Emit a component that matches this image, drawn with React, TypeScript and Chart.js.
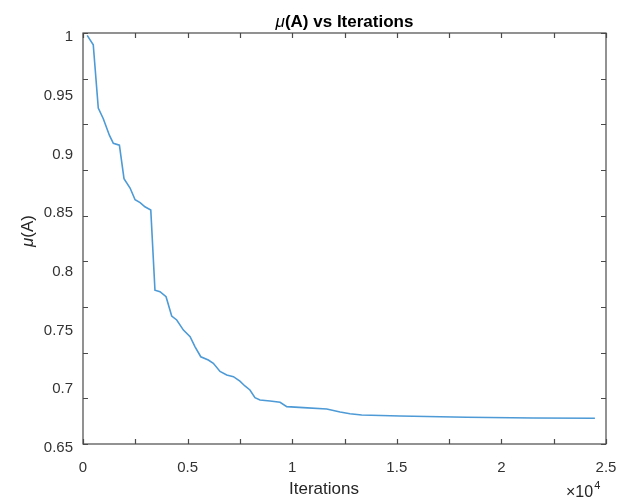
import React, { useEffect, useRef } from "react";
import { Chart, registerables } from "chart.js";

Chart.register(...registerables);

// Data
const iterations = [
  200, 490, 730, 970, 1260, 1450, 1740, 1960, 2250, 2490, 2730, 2960, 3240,
  3440, 3680, 3970, 4240, 4480, 4800, 5120, 5350, 5630, 5990, 6230, 6550,
  6870, 7190, 7500, 7740, 7980, 8220, 8460, 8940, 9420, 9740, 10530, 11650,
  12290, 12760, 13320, 15150, 18340, 21520, 24470,
];
const muValues = [
  0.998, 0.99, 0.936, 0.927, 0.913, 0.906, 0.9045, 0.876, 0.868, 0.858,
  0.8555, 0.852, 0.8493, 0.781, 0.7797, 0.7754, 0.759, 0.7556, 0.747, 0.7414,
  0.733, 0.7243, 0.7215, 0.7187, 0.7118, 0.7087, 0.7073, 0.7035, 0.6994,
  0.696, 0.6894, 0.6875, 0.6866, 0.6855, 0.6818, 0.681, 0.6798, 0.6773,
  0.6758, 0.6747, 0.6738, 0.6728, 0.6722, 0.6719,
];
const xTickLabels = ["0", "0.5", "1", "1.5", "2", "2.5"];
const yTickLabels = ["0.65", "0.7", "0.75", "0.8", "0.85", "0.9", "0.95", "1"];

const FONT = '"Liberation Sans", Arial, Helvetica, sans-serif';

const decorPlugin = {
  id: "matlabDecor",
  afterDraw(chart: any) {
    const { ctx, chartArea: a, scales } = chart;
    const xs = scales.x;
    const ys = scales.y;
    ctx.save();
    // box
    ctx.strokeStyle = "#4a4a4a";
    ctx.lineWidth = 1.2;
    ctx.strokeRect(a.left, a.top, a.right - a.left, a.bottom - a.top);
    // inward ticks
    const tl = 5;
    ctx.beginPath();
    for (let v = 0; v <= 25000; v += 2500) {
      const px = Math.round(xs.getPixelForValue(v)) + 0.5;
      ctx.moveTo(px, a.bottom);
      ctx.lineTo(px, a.bottom - tl);
      ctx.moveTo(px, a.top);
      ctx.lineTo(px, a.top + tl);
    }
    for (let k = 0; k <= 9; k++) {
      const v = 0.65 + (k * 0.35) / 9;
      const py = Math.round(ys.getPixelForValue(v)) + 0.5;
      ctx.moveTo(a.left, py);
      ctx.lineTo(a.left + tl, py);
      ctx.moveTo(a.right, py);
      ctx.lineTo(a.right - tl, py);
    }
    ctx.stroke();

    // title
    ctx.fillStyle = "#000";
    ctx.textBaseline = "alphabetic";
    const tMu = "\u03bc";
    const tRest = "(A) vs Iterations";
    ctx.font = `italic 17px ${FONT}`;
    const w1 = ctx.measureText(tMu).width;
    ctx.font = `bold 17px ${FONT}`;
    const w2 = ctx.measureText(tRest).width;
    const cx = (a.left + a.right) / 2;
    let sx = cx - (w1 + w2) / 2;
    ctx.font = `italic 17px ${FONT}`;
    ctx.fillText(tMu, sx, 27);
    ctx.font = `bold 17px ${FONT}`;
    ctx.fillText(tRest, sx + w1, 27);

    // x label
    ctx.fillStyle = "#262626";
    ctx.font = `17px ${FONT}`;
    ctx.textAlign = "center";
    ctx.fillText("Iterations", 324, 494);

    // exponent
    ctx.textAlign = "left";
    ctx.font = `16px ${FONT}`;
    ctx.fillText("\u00d710", 566, 497);
    const wx = ctx.measureText("\u00d710").width;
    ctx.font = `11px ${FONT}`;
    ctx.fillText("4", 566 + wx + 1, 489);

    // y label
    ctx.save();
    ctx.translate(33, 231);
    ctx.rotate(-Math.PI / 2);
    ctx.font = `italic 17px ${FONT}`;
    const m1 = ctx.measureText(tMu).width;
    ctx.font = `17px ${FONT}`;
    const m2 = ctx.measureText("(A)").width;
    let yx = -(m1 + m2) / 2;
    ctx.textAlign = "left";
    ctx.font = `italic 17px ${FONT}`;
    ctx.fillText(tMu, yx, 0);
    ctx.font = `17px ${FONT}`;
    ctx.fillText("(A)", yx + m1, 0);
    ctx.restore();

    ctx.restore();
  },
};

const zeroPad = (s: any) => {
  s.paddingLeft = 0;
  s.paddingRight = 0;
  s.paddingTop = 0;
  s.paddingBottom = 0;
};

export default function App() {
  const ref = useRef<HTMLCanvasElement | null>(null);

  useEffect(() => {
    if (!ref.current) return;
    const chart = new Chart(ref.current, {
      type: "line",
      data: {
        datasets: [
          {
            data: iterations.map((x, i) => ({ x, y: muValues[i] })),
            borderColor: "#4d9ad6",
            borderWidth: 1.6,
            pointRadius: 0,
            tension: 0,
            fill: false,
          },
        ],
      },
      options: {
        responsive: false,
        animation: false,
        devicePixelRatio: 1,
        layout: { padding: { left: 0, top: 33, right: 16, bottom: 0 } },
        plugins: {
          legend: { display: false },
          title: { display: false },
          tooltip: { enabled: false },
        },
        scales: {
          x: {
            type: "linear",
            min: 0,
            max: 25000,
            grid: { display: false, drawTicks: false },
            border: { display: false },
            ticks: {
              stepSize: 5000,
              padding: 15,
              color: "#333",
              font: { family: FONT, size: 15 },
              maxRotation: 0,
              callback: (v: any) => xTickLabels[Math.round(Number(v) / 5000)] ?? "",
            },
            afterFit: (s: any) => {
              s.height = 54;
              zeroPad(s);
            },
          },
          y: {
            type: "linear",
            min: 0.65,
            max: 1,
            grid: { display: false, drawTicks: false },
            border: { display: false },
            ticks: {
              stepSize: 0.05,
              padding: 10,
              labelOffset: 4,
              color: "#333",
              font: { family: FONT, size: 15 },
              callback: (v: any) =>
                yTickLabels[Math.round((Number(v) - 0.65) / 0.05)] ?? "",
            },
            afterFit: (s: any) => {
              s.width = 83;
              zeroPad(s);
            },
          },
        },
      },
      plugins: [decorPlugin],
    });
    return () => chart.destroy();
  }, []);

  return (
    <div style={{ position: "fixed", left: 0, top: 0, width: 622, height: 498, background: "#fff" }}>
      <canvas ref={ref} width={622} height={498} style={{ display: "block" }} />
    </div>
  );
}
